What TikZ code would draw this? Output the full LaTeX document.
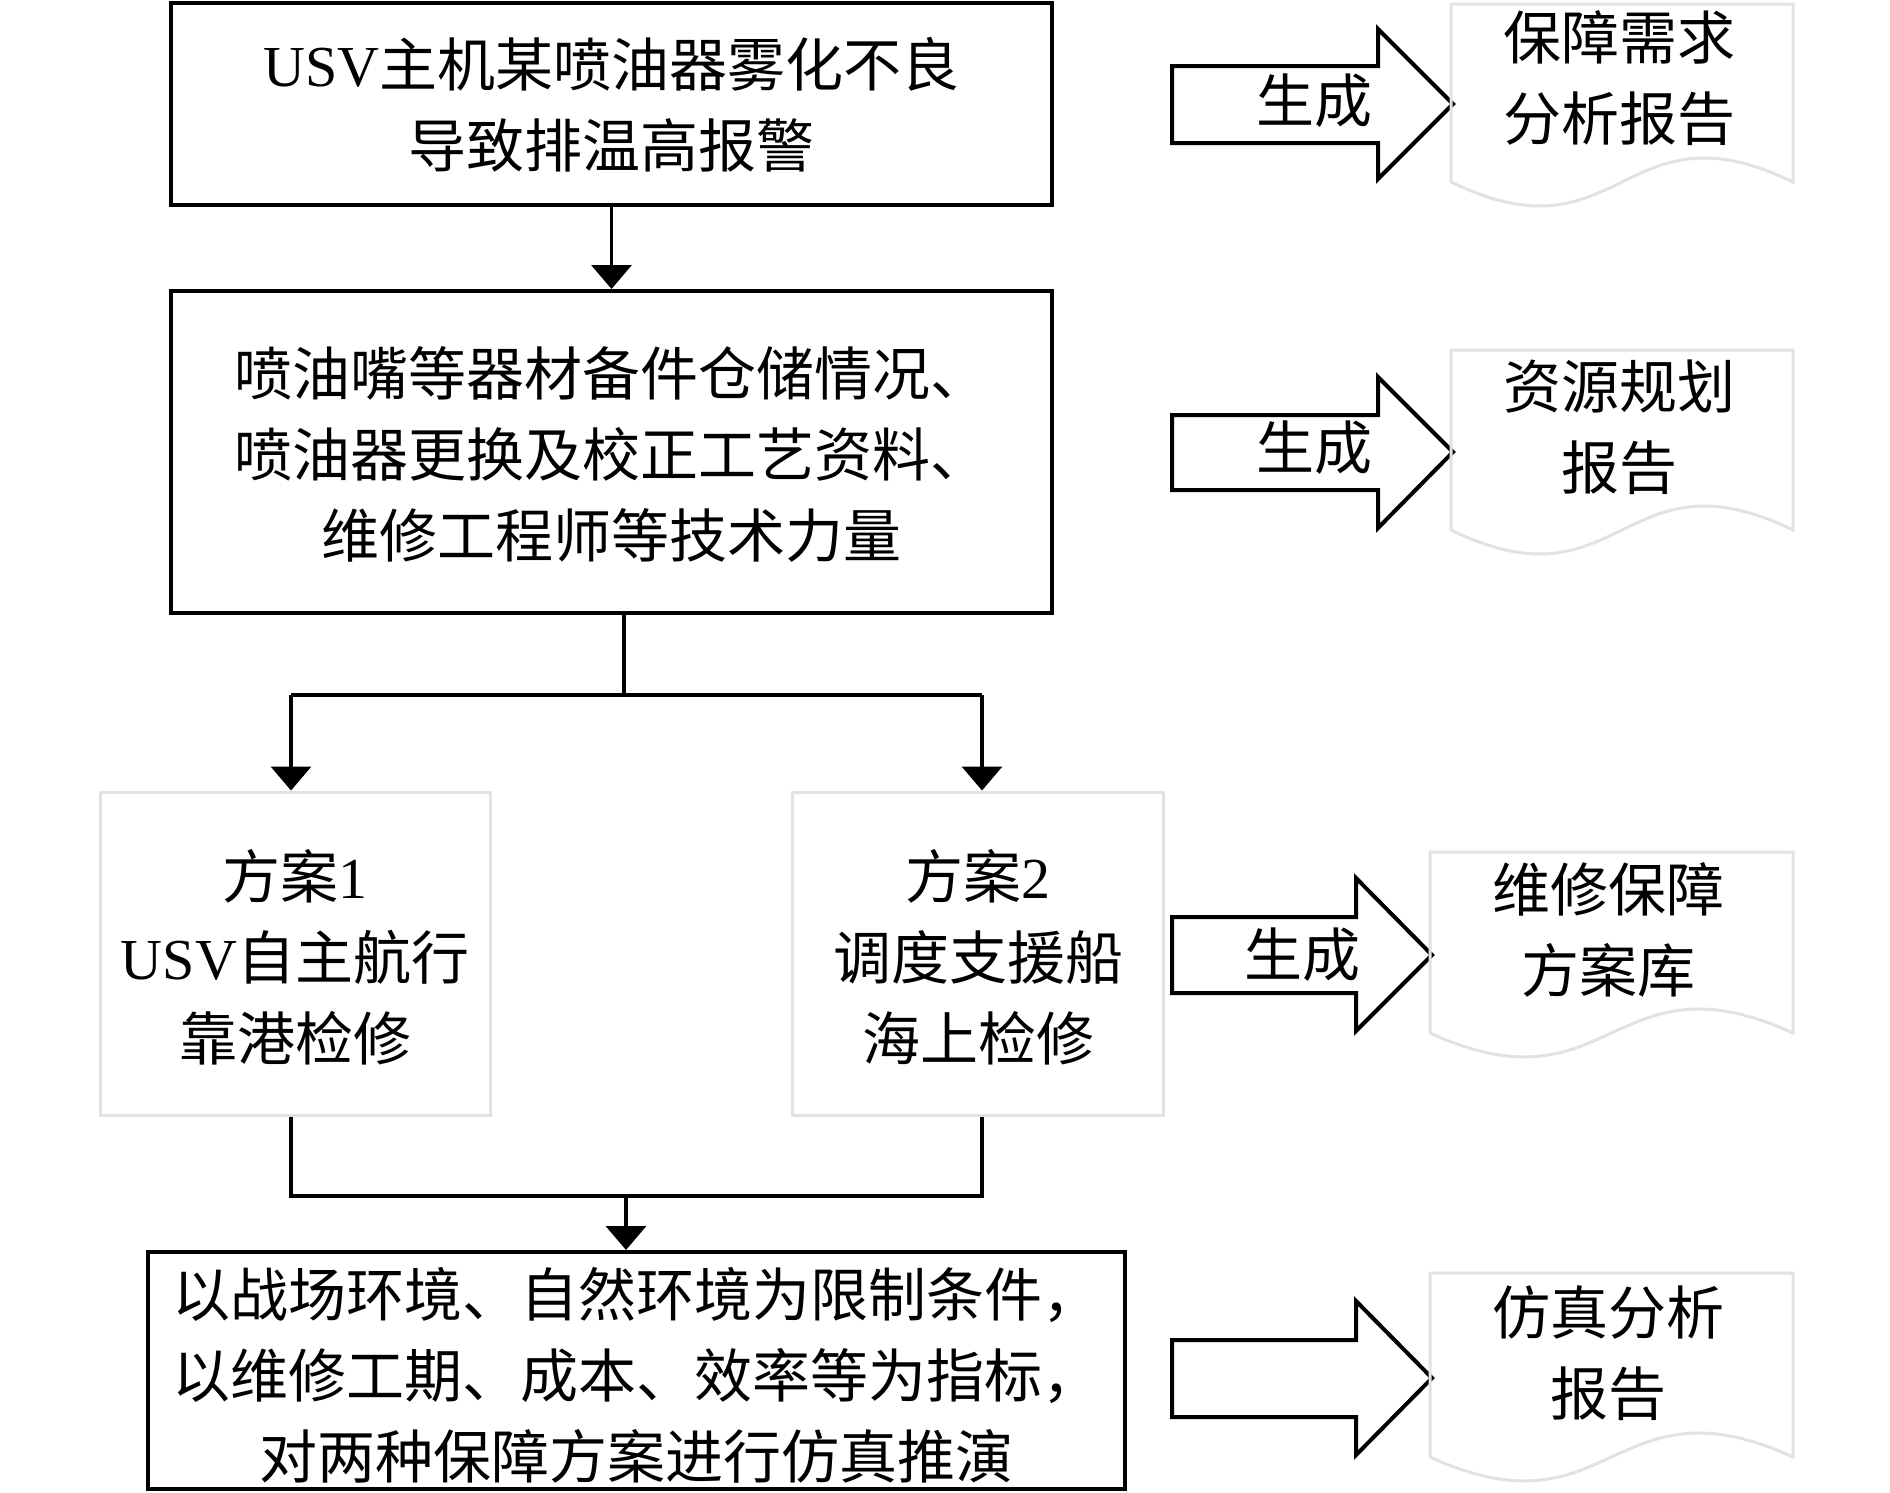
\documentclass[tikz,border=0pt]{standalone}
\usepackage{fontspec}
\setmainfont{Liberation Serif}
\newfontfamily\cjk{Noto Sans CJK SC}
\usetikzlibrary{arrows.meta}
\newcommand\lat[1]{{\rmfamily #1}}
\definecolor{lg}{RGB}{226,226,226}
\begin{document}
\begin{tikzpicture}[x=1pt,y=-1pt,
  mainbox/.style={draw=black,line width=4pt,inner sep=0pt},
  graybox/.style={draw=lg,line width=3pt,inner sep=0pt},
  txt/.style={font=\cjk\fontsize{58pt}{81pt}\selectfont,align=center,inner sep=0pt},
  conn/.style={draw=black,line width=3.5pt},
  arr/.style={conn,-{Triangle[width=40pt,length=24pt]}},
  blk/.style={draw=black,line width=4pt,line join=miter,fill=white},
  doc/.style={draw=lg,line width=3pt,line join=miter}]
\useasboundingbox (0,0) rectangle (1890,1492);
\fill[white] (0,0) rectangle (1890,1492);

% main flow boxes
\node[mainbox,minimum width=881pt,minimum height=202pt] (b1) at (611.5,104) {};
\node[txt] (t1) at (611.5,105) {\lat{USV}主机某喷油器雾化不良\\导致排温高报警};

\node[mainbox,minimum width=881pt,minimum height=322pt] (b2) at (611.5,452) {};
\node[txt] (t2) at (611.5,454) {喷油嘴等器材备件仓储情况、\\喷油器更换及校正工艺资料、\\维修工程师等技术力量};

\node[graybox,minimum width=390pt,minimum height=323pt] (b3) at (295,953.5) {};
\node[txt] (t3) at (295,957) {方案\lat{1}\\\lat{USV}自主航行\\靠港检修};

\node[graybox,minimum width=371pt,minimum height=323pt] (b4) at (977.5,953.5) {};
\node[txt] (t4) at (978,957) {方案\lat{2}\\调度支援船\\海上检修};

\node[mainbox,minimum width=977pt,minimum height=237pt] (b5) at (636.5,1370.5) {};
\node[txt] (t5) at (636.5,1375) {以战场环境、自然环境为限制条件，\\以维修工期、成本、效率等为指标，\\对两种保障方案进行仿真推演};

% connectors
\draw[arr] (b1.south) -- (b2.north);
\coordinate (j1) at (624,695);
\coordinate (l1) at (291,695);
\coordinate (r1) at (982,695);
\draw[conn] (j1 |- b2.south) -- (j1);
\draw[conn] (l1) -- (r1);
\draw[arr] (l1) -- (l1 |- b3.north);
\draw[arr] (r1) -- (r1 |- b4.north);
\coordinate (j2) at (626,1196);
\coordinate (l2) at (291,1196);
\coordinate (r2) at (982,1196);
\draw[conn,line join=miter] (l2 |- b3.south) -- (l2) -- (r2) -- (r2 |- b4.south);
\draw[arr] (j2) -- (j2 |- b5.north);

% block arrows
\draw[blk] (1172,66) -- (1378,66) -- (1378,29) -- (1453,104) -- (1378,179) -- (1378,143) -- (1172,143) -- cycle;
\node[txt] (g1) at (1314,101) {生成};
\draw[blk] (1172,415) -- (1378,415) -- (1378,377) -- (1453,452) -- (1378,528) -- (1378,490) -- (1172,490) -- cycle;
\node[txt] (g2) at (1314,448) {生成};
\draw[blk] (1172,917) -- (1356,917) -- (1356,878) -- (1432,955) -- (1356,1031) -- (1356,993) -- (1172,993) -- cycle;
\node[txt] (g3) at (1302,955) {生成};
\draw[blk] (1172,1340) -- (1356,1340) -- (1356,1301) -- (1432,1378) -- (1356,1455) -- (1356,1417) -- (1172,1417) -- cycle;

% documents
\draw[doc] (1451,182) -- (1451,4) -- (1793,4) -- (1793,182) .. controls (1622,99) and (1622,265) .. (1451,182);
\node[txt] (d1) at (1619,78.5) {保障需求\\分析报告};
\draw[doc] (1451,530) -- (1451,350) -- (1793,350) -- (1793,530) .. controls (1622,447) and (1622,613) .. (1451,530);
\node[txt] (d2) at (1619,427.5) {资源规划\\报告};
\draw[doc] (1430,1033) -- (1430,852) -- (1793,852) -- (1793,1033) .. controls (1611.5,950) and (1611.5,1116) .. (1430,1033);
\node[txt] (d3) at (1608,930) {维修保障\\方案库};
\draw[doc] (1430,1457) -- (1430,1273) -- (1793,1273) -- (1793,1457) .. controls (1611.5,1374) and (1611.5,1540) .. (1430,1457);
\node[txt] (d4) at (1608,1353.5) {仿真分析\\报告};
\end{tikzpicture}
\end{document}
